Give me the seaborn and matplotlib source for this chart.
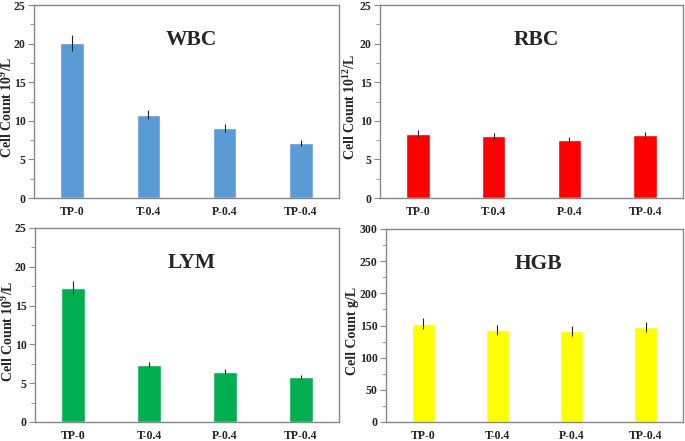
import numpy as np
import pandas as pd
import seaborn as sns
import matplotlib.pyplot as plt
from matplotlib.ticker import MultipleLocator

groups = ["TP-0", "T-0.4", "P-0.4", "TP-0.4"]

wbc = [20.1, 10.8, 9.1, 7.1]
wbc_err = [1.0, 0.6, 0.5, 0.4]
rbc = [8.3, 8.0, 7.5, 8.1]
rbc_err = [0.45, 0.4, 0.4, 0.45]
lym = [17.3, 7.3, 6.5, 5.8]
lym_err = [0.9, 0.4, 0.35, 0.3]
hgb = [153, 143, 142, 148]
hgb_err = [8, 8, 8, 8]

sns.set_theme(style="white")
plt.rcParams['font.family'] = ['Liberation Serif', 'DejaVu Serif']
plt.rcParams['font.weight'] = 'bold'
plt.rcParams['mathtext.fontset'] = 'custom'
plt.rcParams['mathtext.rm'] = 'Liberation Serif:bold'
plt.rcParams['mathtext.bf'] = 'Liberation Serif:bold'
plt.rcParams['mathtext.default'] = 'bf'

fig = plt.figure(figsize=(6.85, 4.41), dpi=100)
W, H = 685, 441

def panel(px):
    l, r, t, b = px
    return fig.add_axes([l / W, 1 - b / H, (r - l) / W, (b - t) / H])

# pixel box, name, data, colour, y max, y step, label, label centre x in px
panels = [
    ((34, 339, 5, 198), "WBC", wbc, wbc_err, "#5B9BD5", 25, 5, "Cell Count 10$^{9}$/L", 9),
    ((380, 683, 5, 198), "RBC", rbc, rbc_err, "#FF0000", 25, 5, "Cell Count 10$^{12}$/L", 352),
    ((35, 339, 228, 422), "LYM", lym, lym_err, "#00B050", 25, 5, "Cell Count 10$^{9}$/L", 10),
    ((386, 683, 229, 422), "HGB", hgb, hgb_err, "#FFFF00", 300, 50, "Cell Count g/L", 353),
]

for px, name, vals, errs, color, ymax, step, ylab, labx in panels:
    ax = panel(px)
    df = pd.DataFrame({"group": groups, "value": vals})
    sns.barplot(data=df, x="group", y="value", color=color, saturation=1,
                width=0.31, errorbar=None, ax=ax)
    ax.errorbar(np.arange(len(vals)), vals, yerr=errs, fmt="none",
                ecolor="#222222", elinewidth=0.8, capsize=0)
    ax.set_ylim(0, ymax)
    ax.set_xlim(-0.5, 3.5)
    ax.yaxis.set_major_locator(MultipleLocator(step))
    ax.yaxis.set_minor_locator(MultipleLocator(step / 2))
    ax.tick_params(axis="y", which="both", direction="out", left=True,
                   color="#888888", labelsize=8.5, pad=2)
    ax.tick_params(axis="y", which="major", length=4, width=0.8)
    ax.tick_params(axis="y", which="minor", length=3, width=0.6)
    ax.tick_params(axis="x", bottom=False, length=0, labelsize=8.5, pad=6)
    for lab in ax.get_xticklabels() + ax.get_yticklabels():
        lab.set_fontweight("bold")
    for s in ax.spines.values():
        s.set_color("#888888")
        s.set_linewidth(1.0)
    ax.set_xlabel("")
    ax.set_ylabel(ylab, fontsize=10, fontweight="bold")
    # label anchor is the right side of the rotated text
    ax.yaxis.set_label_coords((labx + 6 - px[0]) / (px[1] - px[0]), 0.47)
    ax.text(0.515, 0.82, name, transform=ax.transAxes, ha="center",
            va="center", fontsize=15.5, fontweight="bold")

fig.savefig("out.png", dpi=100)
